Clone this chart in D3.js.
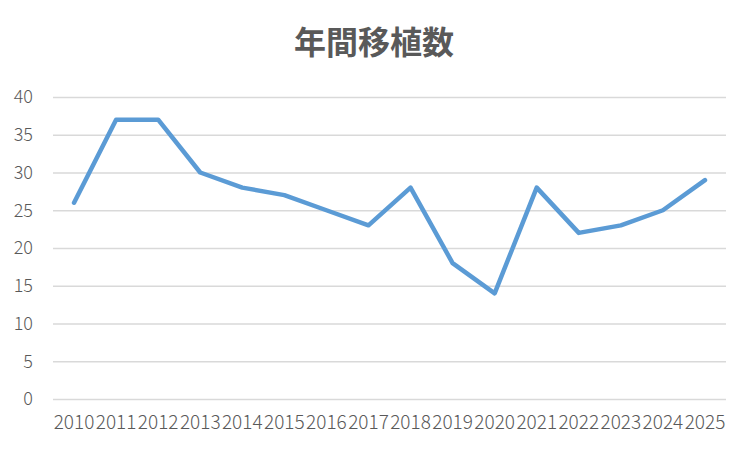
<!DOCTYPE html>
<html><head><meta charset="utf-8">
<script src="https://cdn.jsdelivr.net/npm/d3@7"></script>
<style>body{margin:0;background:#fff}</style>
</head><body>
<svg id="c" width="750" height="450"></svg>
<script>
const years = ["2010","2011","2012","2013","2014","2015","2016","2017","2018","2019","2020","2021","2022","2023","2024","2025"];
const transplants = [26,37,37,30,28,27,25,23,28,18,14,28,22,23,25,29];
const yTicks = [0,5,10,15,20,25,30,35,40];
const title = "年間移植数";

const svg = d3.select("#c");
const m = {l:53, r:726, t:97, b:399};
const x = d3.scaleBand().domain(years).range([m.l, m.r]);
const y = d3.scaleLinear().domain([0,40]).range([m.b, m.t]);
const tickFont = "'Noto Sans CJK JP','Liberation Sans',sans-serif";

svg.append("text").attr("x",374).attr("y",54).attr("text-anchor","middle")
  .attr("font-family","'Noto Sans CJK JP',sans-serif").attr("font-weight","bold")
  .attr("font-size",32).attr("fill","#595959").text(title);

const ya = svg.append("g").attr("transform",`translate(${m.l},0)`)
  .call(d3.axisLeft(y).tickValues(yTicks).tickSize(-(m.r-m.l)).tickPadding(20));
ya.select(".domain").remove();
ya.selectAll("line").attr("stroke","#d9d9d9").attr("stroke-width",1.3);
ya.selectAll("text").attr("font-family",tickFont).attr("font-weight",300).attr("font-size",18).attr("fill","#595959");

const xa = svg.append("g").attr("transform",`translate(0,${m.b})`)
  .call(d3.axisBottom(x).tickSize(0).tickPadding(17));
xa.select(".domain").remove();
xa.selectAll("text").attr("font-family",tickFont).attr("font-weight",300).attr("font-size",19).attr("fill","#595959");

const line = d3.line().x((d,i)=>x(years[i])+x.bandwidth()/2).y(d=>y(d));
svg.append("path").datum(transplants).attr("d",line).attr("fill","none")
  .attr("stroke","#5b9bd5").attr("stroke-width",4.5).attr("stroke-linejoin","round").attr("stroke-linecap","round");
</script>
</body></html>
